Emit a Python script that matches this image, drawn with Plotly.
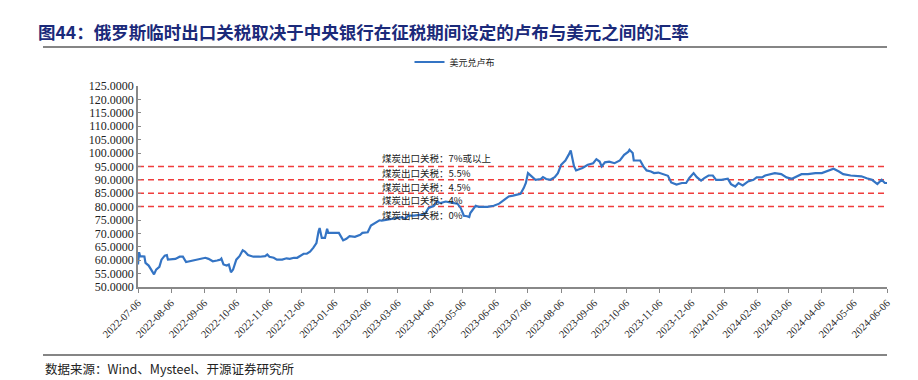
import plotly.graph_objects as go

dates = [
    "2022-07-06", "2022-07-07", "2022-07-08", "2022-07-12", "2022-07-13", "2022-07-16", "2022-07-21", "2022-07-23",
    "2022-07-26", "2022-07-28", "2022-07-31", "2022-08-02", "2022-08-03", "2022-08-10", "2022-08-14", "2022-08-17",
    "2022-08-20", "2022-08-24", "2022-08-30", "2022-09-04", "2022-09-07", "2022-09-10", "2022-09-14", "2022-09-18",
    "2022-09-21", "2022-09-22", "2022-09-24", "2022-09-27", "2022-09-29", "2022-10-01", "2022-10-03", "2022-10-06",
    "2022-10-09", "2022-10-12", "2022-10-14", "2022-10-17", "2022-10-22", "2022-10-28", "2022-11-02", "2022-11-04",
    "2022-11-06", "2022-11-10", "2022-11-13", "2022-11-18", "2022-11-22", "2022-11-25", "2022-11-29", "2022-12-02",
    "2022-12-05", "2022-12-08", "2022-12-11", "2022-12-14", "2022-12-17", "2022-12-20", "2022-12-22", "2022-12-23",
    "2022-12-25", "2022-12-28", "2022-12-30", "2022-12-31", "2023-01-10", "2023-01-14", "2023-01-17", "2023-01-20",
    "2023-01-25", "2023-01-30", "2023-02-01", "2023-02-06", "2023-02-09", "2023-02-13", "2023-02-17", "2023-02-19",
    "2023-02-24", "2023-03-01", "2023-03-06", "2023-03-10", "2023-03-13", "2023-03-16", "2023-03-21", "2023-03-26",
    "2023-03-29", "2023-04-01", "2023-04-04", "2023-04-09", "2023-04-12", "2023-04-15", "2023-04-20", "2023-04-25",
    "2023-05-01", "2023-05-04", "2023-05-07", "2023-05-10", "2023-05-12", "2023-05-13", "2023-05-18", "2023-05-21",
    "2023-05-29", "2023-06-04", "2023-06-09", "2023-06-14", "2023-06-18", "2023-06-22", "2023-06-26", "2023-06-29",
    "2023-07-02", "2023-07-04", "2023-07-06", "2023-07-09", "2023-07-13", "2023-07-18", "2023-07-20", "2023-07-23",
    "2023-07-27", "2023-07-31", "2023-08-03", "2023-08-06", "2023-08-10", "2023-08-13", "2023-08-15", "2023-08-18",
    "2023-08-20", "2023-08-26", "2023-08-31", "2023-09-05", "2023-09-08", "2023-09-11", "2023-09-13", "2023-09-16",
    "2023-09-20", "2023-09-25", "2023-09-30", "2023-10-04", "2023-10-08", "2023-10-09", "2023-10-12", "2023-10-13",
    "2023-10-19", "2023-10-22", "2023-10-25", "2023-10-29", "2023-11-01", "2023-11-05", "2023-11-09", "2023-11-14",
    "2023-11-17", "2023-11-22", "2023-11-27", "2023-12-01", "2023-12-04", "2023-12-08", "2023-12-11", "2023-12-15",
    "2023-12-18", "2023-12-22", "2023-12-26", "2023-12-29", "2024-01-03", "2024-01-09", "2024-01-12", "2024-01-16",
    "2024-01-19", "2024-01-23", "2024-01-28", "2024-02-02", "2024-02-05", "2024-02-10", "2024-02-13", "2024-02-17",
    "2024-02-22", "2024-02-28", "2024-03-04", "2024-03-09", "2024-03-14", "2024-03-18", "2024-03-24", "2024-03-31",
    "2024-04-06", "2024-04-12", "2024-04-17", "2024-04-22", "2024-04-26", "2024-05-03", "2024-05-09", "2024-05-13",
    "2024-05-18", "2024-05-23", "2024-05-28", "2024-06-01", "2024-06-04", "2024-06-06",
]

usd_rub = [
    58.4, 63.0, 61.5, 61.4, 59.0, 58.0, 54.7, 56.5,
    57.5, 60.2, 61.7, 61.9, 60.2, 60.5, 61.3, 61.3,
    59.3, 59.6, 60.2, 60.5, 60.9, 60.5, 59.6, 59.9,
    60.2, 60.6, 58.4, 58.0, 58.4, 55.5, 56.5, 60.2,
    61.5, 63.7, 63.2, 61.9, 61.3, 61.3, 61.5, 62.1,
    61.3, 60.9, 60.2, 60.2, 60.7, 60.5, 60.9, 60.9,
    61.7, 62.4, 62.4, 63.2, 64.6, 66.4, 70.8, 72.0,
    68.3, 68.3, 71.7, 70.2, 70.2, 67.4, 68.0, 69.0,
    68.7, 69.5, 70.2, 70.4, 72.9, 73.9, 74.9, 74.8,
    75.1, 75.4, 75.8, 76.1, 75.4, 76.6, 76.6, 77.0,
    77.0, 77.6, 79.5, 80.3, 81.9, 81.3, 81.9, 81.5,
    81.1, 79.5, 76.6, 76.4, 76.1, 77.6, 80.3, 79.9,
    79.9, 80.3, 81.1, 82.6, 83.8, 84.1, 84.4, 84.8,
    86.9, 88.8, 92.5, 91.5, 90.0, 90.3, 91.0, 90.3,
    90.0, 91.0, 92.5, 95.6, 97.2, 99.3, 100.9, 95.2,
    93.5, 94.4, 95.6, 96.2, 97.7, 96.8, 95.0, 96.5,
    96.8, 96.2, 97.2, 99.3, 100.5, 101.2, 100.0, 97.2,
    97.2, 95.0, 93.5, 93.1, 92.5, 92.7, 92.2, 91.5,
    89.0, 88.2, 88.8, 88.8, 90.7, 92.5, 91.0, 89.7,
    90.6, 91.6, 91.6, 90.0, 90.0, 90.4, 88.4, 87.5,
    88.8, 87.9, 89.4, 90.0, 90.9, 90.9, 91.6, 92.1,
    92.5, 92.1, 90.9, 90.4, 91.3, 92.1, 92.1, 92.5,
    92.5, 93.4, 94.1, 93.1, 92.1, 91.6, 91.3, 91.3,
    90.6, 90.0, 88.4, 90.0, 88.8, 88.8,
]

tick_dates = [
    "2022-07-06", "2022-08-06", "2022-09-06", "2022-10-06", "2022-11-06", "2022-12-06",
    "2023-01-06", "2023-02-06", "2023-03-06", "2023-04-06", "2023-05-06", "2023-06-06",
    "2023-07-06", "2023-08-06", "2023-09-06", "2023-10-06", "2023-11-06", "2023-12-06",
    "2024-01-06", "2024-02-06", "2024-03-06", "2024-04-06", "2024-05-06", "2024-06-06",
]

tax_levels = [95, 90, 85, 80]
tax_labels = ["煤炭出口关税：7%或以上", "煤炭出口关税：5.5%", "煤炭出口关税：4.5%", "煤炭出口关税：4%", "煤炭出口关税：0%"]
tax_label_y = [98.1, 92.7, 87.3, 82.3, 77.0]

series_name = "美元兑卢布"
title_text = "图44：俄罗斯临时出口关税取决于中央银行在征税期间设定的卢布与美元之间的汇率"
source_text = "数据来源：Wind、Mysteel、开源证券研究所"

SERIF = "Liberation Serif, Times New Roman, serif"
CJK = "Noto Sans CJK SC, sans-serif"

W, H = 918, 380
L, R, T, B = 138, 887, 86, 287


def px(xp):
    return xp / W


def py(yp):
    return 1 - yp / H


fig = go.Figure()

# page rules (title underline and footer line) on a full-page overlay axis pair
for x_start, x_end, y_px in [(43, 887, 47), (43, 887, 355)]:
    fig.add_trace(go.Scatter(
        x=[x_start, x_end], y=[y_px, y_px], mode="lines",
        xaxis="x2", yaxis="y2",
        line=dict(color="#858585", width=2),
        showlegend=False, hoverinfo="skip",
    ))

for lv in tax_levels:
    fig.add_trace(go.Scatter(
        x=[tick_dates[0], tick_dates[-1]], y=[lv, lv], mode="lines",
        line=dict(color="#f03c3c", width=1.5, dash="6px,4px"),
        showlegend=False, hoverinfo="skip",
    ))

fig.add_trace(go.Scatter(
    x=dates, y=usd_rub, mode="lines", name=series_name,
    line=dict(color="#3474c4", width=2.2),
))

annotations = []
for txt, yv in zip(tax_labels, tax_label_y):
    annotations.append(dict(
        x="2023-02-18", y=yv, xref="x", yref="y", text=txt, showarrow=False,
        xanchor="left", yanchor="middle", borderpad=0,
        font=dict(family=CJK, size=9.5, color="#222222"),
    ))

annotations.append(dict(
    x=px(43), y=py(368), xref="paper", yref="paper", text=source_text,
    showarrow=False, xanchor="left", yanchor="middle",
    font=dict(family=CJK, size=12.5, color="#222222"),
))

fig.update_layout(
    width=W, height=H,
    margin=dict(l=0, r=0, t=0, b=0, pad=0, autoexpand=False),
    paper_bgcolor="white", plot_bgcolor="rgba(0,0,0,0)",
    title=dict(
        text="<b>" + title_text + "</b>",
        x=px(38), xanchor="left", xref="container",
        y=py(33), yanchor="middle", yref="container",
        font=dict(family=CJK, size=17.5, color="#1b2a7a"),
    ),
    showlegend=True,
    legend=dict(
        orientation="h", x=px(455), xanchor="center", y=py(62), yanchor="middle",
        font=dict(family=CJK, size=9, color="#222222"),
        bgcolor="rgba(0,0,0,0)",
    ),
    xaxis=dict(
        domain=[px(L), px(R)],
        type="date", range=[tick_dates[0], tick_dates[-1]],
        tickmode="array", tickvals=tick_dates, ticktext=tick_dates,
        tickangle=-45, ticks="outside", ticklen=4, tickcolor="#888888",
        showline=True, linecolor="#888888", linewidth=1.5,
        showgrid=False, zeroline=False, automargin=False,
        tickfont=dict(family=SERIF, size=10.5, color="#222222"),
    ),
    yaxis=dict(
        domain=[py(B), py(T)],
        range=[50, 125], dtick=5, tick0=50, tickformat=".4f",
        ticks="inside", ticklen=3, tickcolor="#888888",
        showline=True, linecolor="#888888", linewidth=1.5,
        showgrid=False, zeroline=False, automargin=False,
        tickfont=dict(family=SERIF, size=12, color="#222222"),
    ),
    xaxis2=dict(domain=[0, 1], range=[0, W], visible=False, fixedrange=True,
                anchor="y2", showgrid=False, zeroline=False),
    yaxis2=dict(domain=[0, 1], range=[H, 0], visible=False, fixedrange=True,
                anchor="x2", showgrid=False, zeroline=False),
    annotations=annotations,
)

fig.write_html(
    "out.html",
    config={"displayModeBar": False},
    post_script="document.body.style.margin='0';document.body.style.overflow='hidden';",
)
